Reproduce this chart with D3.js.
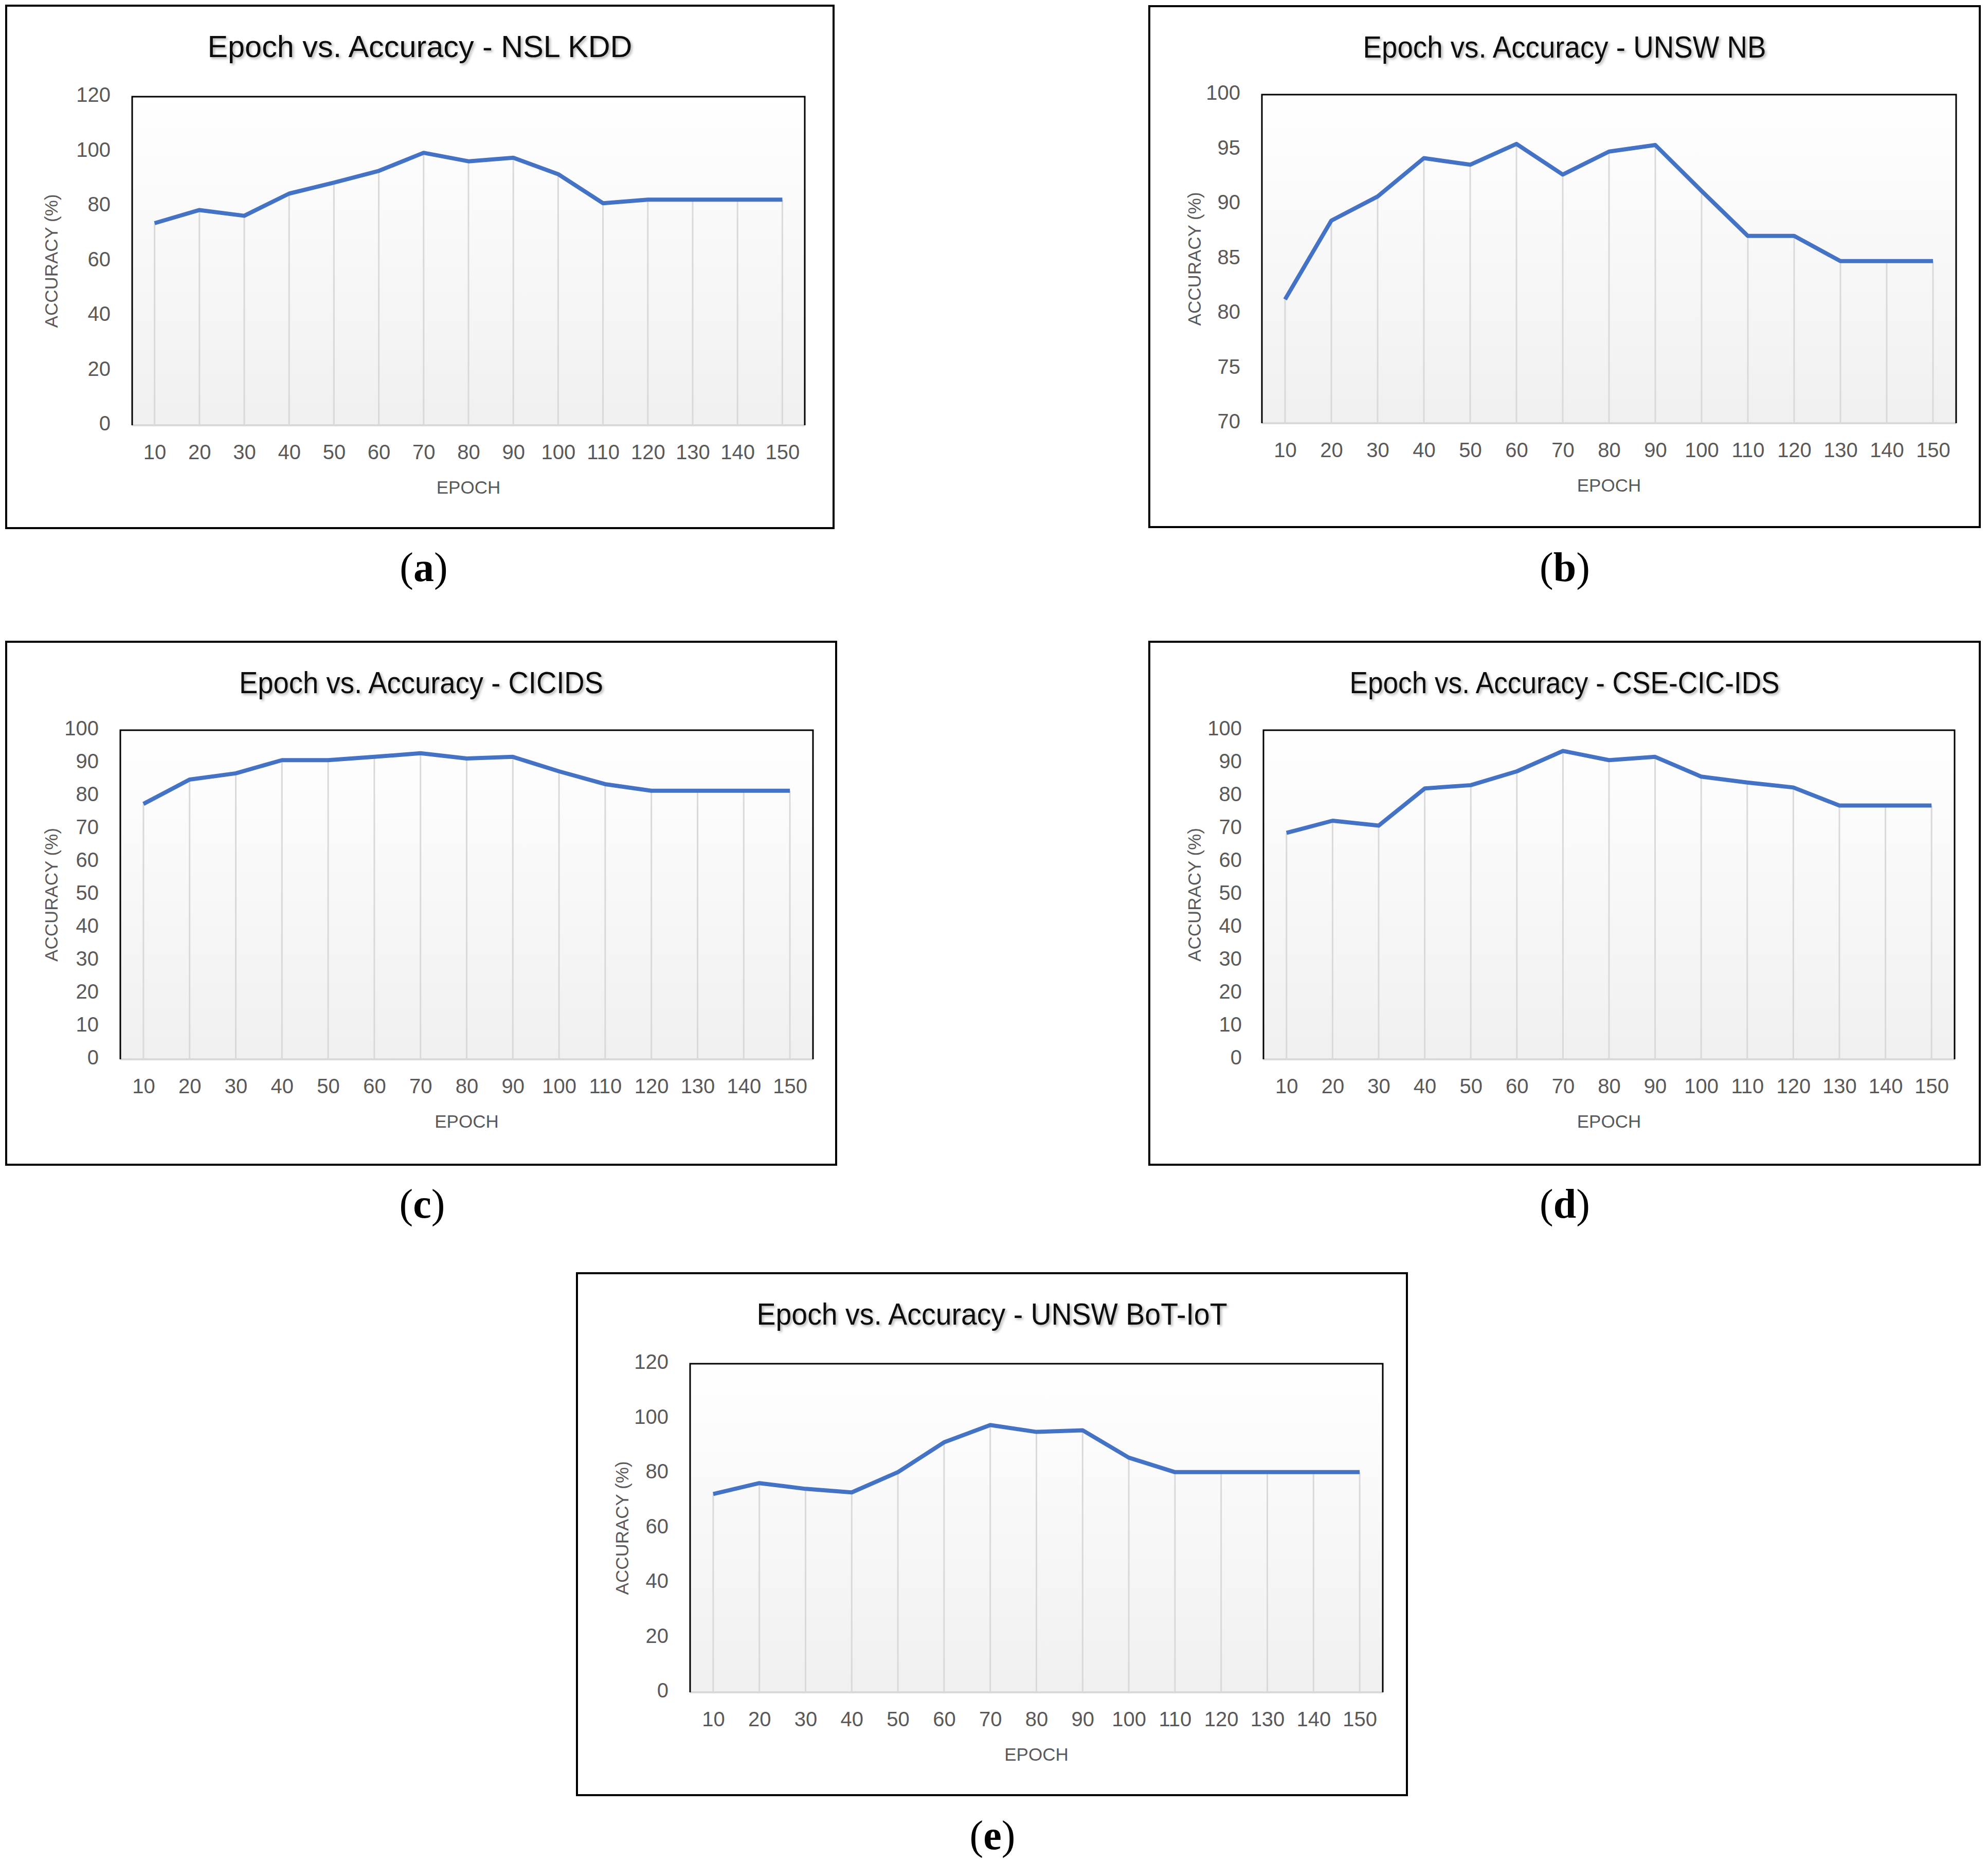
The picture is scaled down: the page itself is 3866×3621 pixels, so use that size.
<!DOCTYPE html>
<html>
<head>
<meta charset="utf-8">
<script src="https://cdn.jsdelivr.net/npm/d3@7"></script>
<style>
  html, body { margin: 0; padding: 0; background: #fff; }
  svg { display: block; }
</style>
</head>
<body>
<svg id="fig" width="3866" height="3621"></svg>
<script>
// ── Data ──
const epochs = [10, 20, 30, 40, 50, 60, 70, 80, 90, 100, 110, 120, 130, 140, 150];

const nslKdd     = [73.8, 78.6, 76.5, 84.6, 88.6, 92.9, 99.5, 96.4, 97.7, 91.7, 81.1, 82.4, 82.4, 82.4, 82.4];
const unswNb     = [81.3, 88.5, 90.7, 94.2, 93.6, 95.5, 92.7, 94.8, 95.4, 91.2, 87.1, 87.1, 84.8, 84.8, 84.8];
const cicids     = [77.6, 85.0, 86.9, 90.9, 90.9, 91.9, 93.0, 91.4, 91.9, 87.5, 83.6, 81.6, 81.6, 81.6, 81.6];
const cseCicIds  = [68.8, 72.5, 71.0, 82.3, 83.3, 87.5, 93.7, 90.9, 91.9, 85.9, 84.1, 82.6, 77.1, 77.1, 77.1];
const unswBotIot = [72.4, 76.4, 74.3, 73.0, 80.4, 91.3, 97.6, 95.1, 95.7, 85.7, 80.4, 80.4, 80.4, 80.4, 80.4];

const ticks0to120 = [0, 20, 40, 60, 80, 100, 120];
const ticks0to100 = [0, 10, 20, 30, 40, 50, 60, 70, 80, 90, 100];
const ticks70to100 = [70, 75, 80, 85, 90, 95, 100];

const titles = [
    "Epoch vs. Accuracy - NSL KDD",
    "Epoch vs. Accuracy - UNSW NB",
    "Epoch vs. Accuracy - CICIDS",
    "Epoch vs. Accuracy - CSE-CIC-IDS",
    "Epoch vs. Accuracy - UNSW BoT-IoT",
];
const captions = ["a", "b", "c", "d", "e"];
const xTitle = "EPOCH";
const yTitle = "ACCURACY (%)";

// ── Layout (pixels) ──
// titleW: width the title takes in the original (narrower Calibri-like face)
const panels = [
    { values: nslKdd,     ticks: ticks0to120,  box: [12, 11, 1609, 1016],     plot: [257, 188, 1308, 639],   titleW: 826, cap: [824, 1130] },
    { values: unswNb,     ticks: ticks70to100, box: [2235, 12, 1615, 1013],   plot: [2454, 184, 1350, 639],  titleW: 784, cap: [3043, 1130] },
    { values: cicids,     ticks: ticks0to100,  box: [12, 1248, 1614, 1017],   plot: [234, 1420, 1347, 640],  titleW: 708, cap: [821, 2368] },
    { values: cseCicIds,  ticks: ticks0to100,  box: [2235, 1248, 1615, 1017], plot: [2457, 1420, 1344, 640], titleW: 836, cap: [3043, 2368] },
    { values: unswBotIot, ticks: ticks0to120,  box: [1122, 2476, 1614, 1015], plot: [1342, 2652, 1347, 639], titleW: 915, cap: [1930, 3596] },
];

const FONT = "'Liberation Sans', Arial, sans-serif";
const LINE_COLOR = "#4472C4";
const LABEL_COLOR = "#595959";

const svg = d3.select("#fig");
const defs = svg.append("defs");

// plot-area background gradient
const grad = defs.append("linearGradient")
    .attr("id", "plotFill")
    .attr("x1", 0).attr("y1", 0).attr("x2", 0).attr("y2", 1);
grad.append("stop").attr("offset", "0%").attr("stop-color", "#ffffff");
grad.append("stop").attr("offset", "100%").attr("stop-color", "#f0f0f0");

// soft shadow behind titles
const shadow = defs.append("filter")
    .attr("id", "titleShadow")
    .attr("x", "-5%").attr("y", "-30%").attr("width", "110%").attr("height", "160%");
shadow.append("feDropShadow")
    .attr("dx", 3).attr("dy", 3).attr("stdDeviation", 2.5)
    .attr("flood-color", "#000").attr("flood-opacity", 0.3);

panels.forEach((p, i) => {
    const [bx, by, bw, bh] = p.box;
    const [px, py, pw, ph] = p.plot;
    const g = svg.append("g");

    const x = d3.scalePoint().domain(epochs).range([px, px + pw]).padding(0.5);
    const y = d3.scaleLinear()
        .domain([d3.min(p.ticks), d3.max(p.ticks)])
        .range([py + ph, py]);

    // ── outer frame ──
    g.append("rect")
        .attr("x", bx).attr("y", by).attr("width", bw).attr("height", bh)
        .style("fill", "#fff").style("stroke", "#000").style("stroke-width", 4);

    // ── title ──
    g.append("text")
        .attr("x", bx + bw / 2).attr("y", by + 100)
        .attr("text-anchor", "middle")
        .attr("textLength", p.titleW)
        .attr("lengthAdjust", "spacingAndGlyphs")
        .attr("filter", "url(#titleShadow)")
        .style("font-family", FONT).style("font-size", "59px")
        .style("fill", "#111")
        .text(titles[i]);

    // ── plot area ──
    g.append("rect")
        .attr("x", px).attr("y", py).attr("width", pw).attr("height", ph)
        .style("fill", "url(#plotFill)");

    // drop lines from the series to the axis
    g.append("g").selectAll("line")
        .data(epochs)
        .join("line")
        .attr("x1", d => x(d)).attr("x2", d => x(d))
        .attr("y1", (d, j) => y(p.values[j]))
        .attr("y2", py + ph)
        .style("stroke", "#d9d9d9").style("stroke-width", 3);

    // bottom axis line (gray) + black frame on top/left/right
    g.append("line")
        .attr("x1", px).attr("x2", px + pw)
        .attr("y1", py + ph).attr("y2", py + ph)
        .style("stroke", "#d9d9d9").style("stroke-width", 4);
    g.append("path")
        .attr("d", `M${px},${py + ph} V${py} H${px + pw} V${py + ph}`)
        .style("fill", "none").style("stroke", "#000").style("stroke-width", 3);

    // series line
    const line = d3.line()
        .x((d, j) => x(epochs[j]))
        .y(d => y(d));
    g.append("path")
        .datum(p.values)
        .attr("d", line)
        .style("fill", "none")
        .style("stroke", LINE_COLOR)
        .style("stroke-width", 8)
        .style("stroke-linejoin", "round")
        .style("stroke-linecap", "butt");

    // ── axes (labels only) ──
    const yAxis = g.append("g")
        .attr("transform", `translate(${px},0)`)
        .call(d3.axisLeft(y).tickValues(p.ticks).tickSize(0).tickPadding(42));
    const xAxis = g.append("g")
        .attr("transform", `translate(0,${py + ph})`)
        .call(d3.axisBottom(x).tickSize(0).tickPadding(38));
    [yAxis, xAxis].forEach(a => {
        a.select(".domain").remove();
        a.selectAll("text")
            .style("font-family", FONT).style("font-size", "40px")
            .style("fill", LABEL_COLOR);
    });
    yAxis.selectAll("text").attr("dy", "0.24em");

    // axis titles
    g.append("text")
        .attr("x", px + pw / 2).attr("y", py + ph + 133)
        .attr("text-anchor", "middle")
        .style("font-family", FONT).style("font-size", "35px")
        .style("fill", LABEL_COLOR)
        .text(xTitle);
    g.append("text")
        .attr("transform", `translate(${bx + 100},${py + ph / 2}) rotate(-90)`)
        .attr("text-anchor", "middle")
        .style("font-family", FONT).style("font-size", "35px")
        .style("fill", LABEL_COLOR)
        .text(yTitle);

    // ── sub-figure caption ──
    const cap = svg.append("text")
        .attr("x", p.cap[0]).attr("y", p.cap[1])
        .attr("text-anchor", "middle")
        .style("font-family", "'Liberation Serif', 'Times New Roman', serif")
        .style("font-size", "80px")
        .style("fill", "#000");
    cap.append("tspan").text("(");
    cap.append("tspan").style("font-weight", "bold").text(captions[i]);
    cap.append("tspan").text(")");
});
</script>
</body>
</html>
